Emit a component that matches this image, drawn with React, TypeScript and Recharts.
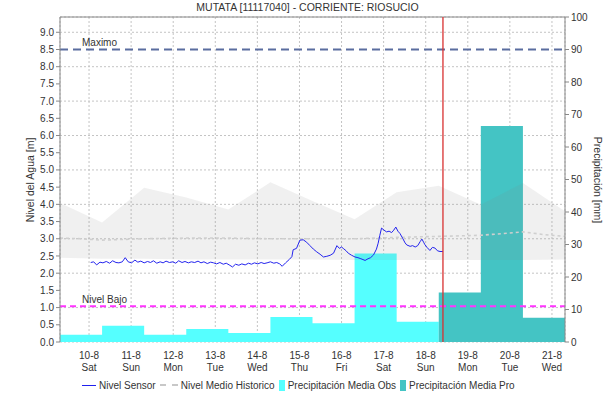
import React from 'react';
import {
  ComposedChart, Area, Line, XAxis, YAxis, CartesianGrid, ReferenceLine,
} from 'recharts';

const TITLE = 'MUTATA [11117040] - CORRIENTE: RIOSUCIO';
const DAY_LABELS = ['10-8', '11-8', '12-8', '13-8', '14-8', '15-8', '16-8', '17-8', '18-8', '19-8', '20-8', '21-8'];
const WEEKDAYS = ['Sat', 'Sun', 'Mon', 'Tue', 'Wed', 'Thu', 'Fri', 'Sat', 'Sun', 'Mon', 'Tue', 'Wed'];
const TICK_OFFSET = 0.69;

const LEVEL_TICKS = [0, 0.5, 1, 1.5, 2, 2.5, 3, 3.5, 4, 4.5, 5, 5.5, 6, 6.5, 7, 7.5, 8, 8.5, 9];
const RAIN_TICKS = [0, 10, 20, 30, 40, 50, 60, 70, 80, 90, 100];
const LEVEL_MAX = 9.444;

const NIVEL_MAXIMO = 8.5;
const NIVEL_BAJO = 1.04;
const NOW_T = 9.1;

const OBS_RAIN = [2.2, 5.0, 2.2, 4.0, 2.8, 7.7, 5.8, 27.2, 6.2];
const PRO_RAIN = [15.2, 66.5, 7.5];

const BAND_T = [0, 1, 2, 3, 4, 5, 6, 7, 8, 9, 10, 11, 12];
const BAND_LO = [2.45, 2.42, 2.42, 2.4, 2.4, 2.4, 2.4, 2.38, 2.38, 2.38, 2.38, 2.38, 2.4];
const BAND_HI = [4.04, 3.47, 4.48, 4.2, 3.85, 4.64, 4.1, 3.57, 4.35, 4.54, 3.99, 4.62, 3.8];

const MEDIAN_T = [0, 0.5, 1, 1.5, 2, 3, 4, 5, 6, 7, 8, 9, 10, 10.5, 11, 11.5, 12];
const MEDIAN_V = [3.02, 3.0, 2.96, 2.98, 3.0, 3.02, 3.02, 3.0, 3.0, 3.0, 3.04, 3.07, 3.1, 3.15, 3.2, 3.12, 3.07];

const SENSOR_T = [
  0.73, 0.8, 0.87, 0.95, 1.02, 1.1, 1.18, 1.25, 1.33, 1.4, 1.48, 1.55, 1.62, 1.7, 1.78, 1.85, 1.92,
  2.0, 2.08, 2.15, 2.22, 2.3, 2.38, 2.45, 2.52, 2.6, 2.68, 2.75, 2.82, 2.9, 2.97, 3.05, 3.12, 3.2,
  3.28, 3.35, 3.42, 3.5, 3.58, 3.65, 3.72, 3.8, 3.88, 3.95, 4.02, 4.1, 4.17, 4.25, 4.32, 4.4, 4.48,
  4.55, 4.62, 4.7, 4.78, 4.85, 4.92, 5.0, 5.08, 5.15, 5.22, 5.28, 5.36, 5.45, 5.51, 5.54, 5.62, 5.7,
  5.78, 5.86, 5.94, 6.02, 6.1, 6.18, 6.26, 6.34, 6.42, 6.5, 6.58, 6.64, 6.69, 6.73, 6.8, 6.85, 6.93,
  7.01, 7.08, 7.15, 7.25, 7.32, 7.38, 7.45, 7.52, 7.56, 7.6, 7.64, 7.7, 7.76, 7.82, 7.88, 7.93, 7.98,
  8.03, 8.08, 8.14, 8.2, 8.24, 8.32, 8.38, 8.44, 8.5, 8.56, 8.6, 8.64, 8.67, 8.72, 8.79, 8.85, 8.91,
  8.97, 9.03, 9.1,
];
const SENSOR_V = [
  2.31, 2.33, 2.24, 2.32, 2.30, 2.34, 2.29, 2.36, 2.31, 2.30, 2.33, 2.45, 2.33, 2.30, 2.38, 2.32, 2.35,
  2.30, 2.34, 2.31, 2.36, 2.29, 2.33, 2.30, 2.35, 2.31, 2.33, 2.29, 2.36, 2.31, 2.34, 2.30, 2.33, 2.31,
  2.35, 2.30, 2.33, 2.28, 2.32, 2.30, 2.27, 2.31, 2.26, 2.29, 2.24, 2.18, 2.26, 2.23, 2.27, 2.24, 2.29,
  2.26, 2.30, 2.27, 2.31, 2.28, 2.30, 2.33, 2.29, 2.31, 2.27, 2.20, 2.30, 2.40, 2.48, 2.68, 2.72, 2.96,
  2.97, 2.90, 2.80, 2.70, 2.62, 2.55, 2.47, 2.49, 2.52, 2.58, 2.80, 2.72, 2.76, 2.72, 2.65, 2.58, 2.52,
  2.47, 2.45, 2.42, 2.37, 2.42, 2.45, 2.53, 2.70, 2.87, 3.10, 3.31, 3.25, 3.20, 3.22, 3.18, 3.25, 3.34,
  3.22, 3.15, 3.02, 2.88, 2.82, 2.78, 2.80, 2.76, 2.80, 2.92, 2.99, 2.90, 2.83, 2.75, 2.66, 2.75, 2.73,
  2.65, 2.63, 2.63,
];

const obsData = [
  ...OBS_RAIN.map((v, i) => ({ t: i, rain: v })),
  { t: OBS_RAIN.length, rain: OBS_RAIN[OBS_RAIN.length - 1] },
];
const proStart = OBS_RAIN.length;
const proData = [
  ...PRO_RAIN.map((v, i) => ({ t: proStart + i, rain: v })),
  { t: proStart + PRO_RAIN.length, rain: PRO_RAIN[PRO_RAIN.length - 1] },
];
const bandData = BAND_T.map((t, i) => ({ t, band: [BAND_LO[i], BAND_HI[i]] }));
const medianData = MEDIAN_T.map((t, i) => ({ t, median: MEDIAN_V[i] }));
const sensorData = SENSOR_T.map((t, i) => ({ t, level: SENSOR_V[i] }));
const xTicks = DAY_LABELS.map((_, i) => i + TICK_OFFSET);

const FONT = '"Liberation Sans", Arial, sans-serif';
const TEXT = '#333';
const FS = 10;

const DayTick = (props: any) => {
  const { x, y, index } = props;
  return (
    <g>
      <text x={x} y={y + 9} textAnchor="middle" fontSize={FS} fontFamily={FONT} fill={TEXT}>{DAY_LABELS[index]}</text>
      <text x={x} y={y + 21} textAnchor="middle" fontSize={FS} fontFamily={FONT} fill={TEXT}>{WEEKDAYS[index]}</text>
    </g>
  );
};

const refLabel = (text: string) => (props: any) => {
  const vb = props.viewBox || {};
  return (
    <text x={(vb.x || 0) + 22} y={(vb.y || 0) - 3} fontSize={FS} fontFamily={FONT} fill={TEXT}>{text}</text>
  );
};

const legendItems = [
  { label: 'Nivel Sensor', type: 'line', color: '#2020ee' },
  { label: 'Nivel Medio Historico', type: 'dash', color: '#c8c8c8' },
  { label: 'Precipitación Media Obs', type: 'box', color: '#55ffff' },
  { label: 'Precipitación Media Pro', type: 'box', color: '#44c4c4' },
];

export default function App() {
  return (
    <div style={{ position: 'absolute', left: 0, top: 0, width: 615, height: 404, background: '#fff', fontFamily: FONT }}>
      <div style={{ position: 'absolute', top: 0, left: 0, width: 615, textAlign: 'center', fontSize: 10.5, lineHeight: '14px', color: TEXT }}>
        {TITLE}
      </div>
      <ComposedChart width={615} height={404} margin={{ top: 17, right: 0, bottom: 0, left: 0 }}>
        <CartesianGrid yAxisId="left" stroke="#c4c4c4" strokeDasharray="2 2" />
        <XAxis
          dataKey="t"
          type="number"
          domain={[0, 12]}
          ticks={xTicks}
          allowDataOverflow
          axisLine={false}
          tickLine={false}
          height={62}
          tick={<DayTick />}
          interval={0}
        />
        <YAxis
          yAxisId="left"
          orientation="left"
          width={60}
          domain={[0, LEVEL_MAX]}
          ticks={LEVEL_TICKS}
          allowDataOverflow
          tickFormatter={(v: number) => v.toFixed(1)}
          tickSize={4}
          stroke="#888"
          tick={{ fontSize: FS, fontFamily: FONT, fill: TEXT }}
        />
        <YAxis
          yAxisId="right"
          orientation="right"
          width={50}
          domain={[0, 100]}
          ticks={RAIN_TICKS}
          allowDataOverflow
          tickSize={4}
          stroke="#888"
          tick={{ fontSize: FS, fontFamily: FONT, fill: TEXT }}
        />
        <Area yAxisId="right" data={obsData} dataKey="rain" type="stepAfter" fill="#55ffff" fillOpacity={1} stroke="none" isAnimationActive={false} dot={false} activeDot={false} />
        <Area yAxisId="right" data={proData} dataKey="rain" type="stepAfter" fill="#44c4c4" fillOpacity={1} stroke="none" isAnimationActive={false} dot={false} activeDot={false} />
        <Area yAxisId="left" data={bandData} dataKey="band" type="linear" fill="#808080" fillOpacity={0.12} stroke="none" isAnimationActive={false} dot={false} activeDot={false} />
        <Line yAxisId="left" data={medianData} dataKey="median" type="linear" stroke="#cfcfcf" strokeWidth={1.6} strokeDasharray="3 3" dot={false} activeDot={false} isAnimationActive={false} />
        <Line yAxisId="left" data={sensorData} dataKey="level" type="linear" stroke="#2424ee" strokeWidth={1} dot={false} activeDot={false} isAnimationActive={false} />
        <ReferenceLine yAxisId="left" y={LEVEL_MAX} stroke="#888" strokeWidth={1} />
        <ReferenceLine yAxisId="left" y={NIVEL_MAXIMO} stroke="#5a6d9f" strokeWidth={2} strokeDasharray="8 5" label={refLabel('Maximo')} />
        <ReferenceLine yAxisId="left" y={NIVEL_BAJO} stroke="#ff33ff" strokeWidth={2} strokeDasharray="6 4" label={refLabel('Nivel Bajo')} />
        <ReferenceLine yAxisId="left" x={NOW_T} stroke="#d83030" strokeWidth={1.3} />
      </ComposedChart>
      <div style={{ position: 'absolute', left: 4, top: 180, width: 52, height: 0 }}>
        <div style={{ position: 'absolute', left: 26, top: 0, transform: 'translate(-50%, -50%) rotate(-90deg)', whiteSpace: 'nowrap', fontSize: 10.5, color: TEXT }}>
          Nivel del Agua [m]
        </div>
      </div>
      <div style={{ position: 'absolute', left: 598, top: 180, width: 0, height: 0 }}>
        <div style={{ position: 'absolute', left: 0, top: 0, transform: 'translate(-50%, -50%) rotate(90deg)', whiteSpace: 'nowrap', fontSize: 10.5, color: TEXT }}>
          Precipitación [mm]
        </div>
      </div>
      <div style={{ position: 'absolute', left: 82, top: 378, height: 14, display: 'flex', alignItems: 'center', fontSize: FS, color: TEXT, whiteSpace: 'nowrap' }}>
        {legendItems.map((it, i) => (
          <div key={it.label} style={{ display: 'flex', alignItems: 'center', marginLeft: i === 0 ? 0 : 4 }}>
            {it.type === 'line' && <span style={{ display: 'inline-block', width: 14, height: 0, borderTop: `1.5px solid ${it.color}`, marginRight: 3 }} />}
            {it.type === 'dash' && <span style={{ display: 'inline-block', width: 18, height: 0, borderTop: `2px dashed ${it.color}`, marginRight: 3 }} />}
            {it.type === 'box' && <span style={{ display: 'inline-block', width: 6, height: 11, background: it.color, marginRight: 3 }} />}
            <span>{it.label}</span>
          </div>
        ))}
      </div>
    </div>
  );
}
